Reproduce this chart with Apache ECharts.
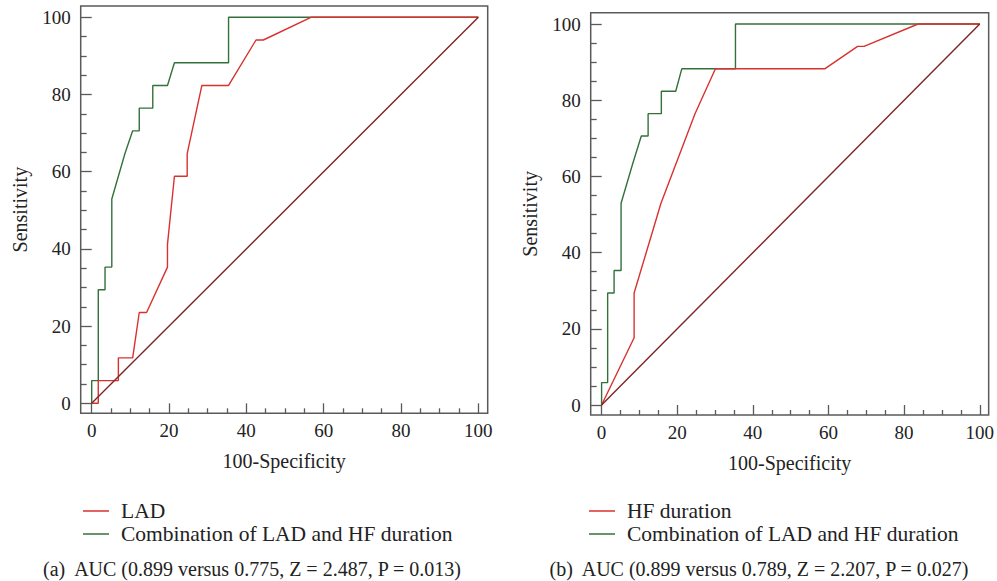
<!DOCTYPE html>
<html><head><meta charset="utf-8">
<script src="https://cdn.jsdelivr.net/npm/echarts@6/dist/echarts.min.js"></script>
<style>html,body{margin:0;padding:0;background:#fff}#c{width:997px;height:581px}</style>
</head><body><div id="c"></div>
<script>
// ---- data ----
const majorTicks = [0, 20, 40, 60, 80, 100];
const minorTicks = [5, 10, 15, 25, 30, 35, 45, 50, 55, 65, 70, 75, 85, 90, 95];
// Panel (a)
const ladX = [0, 1.7, 1.7, 6.9, 6.9, 10.6, 12.3, 14.2, 19.6, 19.6, 21.4, 24.7, 24.7, 28.5, 35.4, 42.5, 44.4, 56.7, 100];
const ladY = [0, 0, 5.88, 5.88, 11.76, 11.76, 23.53, 23.53, 35.29, 41.18, 58.82, 58.82, 64.71, 82.35, 82.35, 94.12, 94.12, 100, 100];
const combAX = [0, 0, 1.7, 1.7, 3.45, 3.45, 5.2, 5.2, 8.6, 10.6, 12.3, 12.3, 15.8, 15.8, 19.6, 21.4, 35.4, 35.4, 100];
const combAY = [0, 5.88, 5.88, 29.41, 29.41, 35.29, 35.29, 52.94, 64.7, 70.59, 70.59, 76.47, 76.47, 82.35, 82.35, 88.24, 88.24, 100, 100];
// Panel (b)
const hfX = [0, 8.6, 8.6, 15.7, 24.7, 30.1, 59, 67.7, 69.4, 83.7, 100];
const hfY = [0, 17.65, 29.41, 52.94, 76.47, 88.24, 88.24, 94.12, 94.12, 100, 100];
const combBX = [0, 0, 1.6, 1.6, 3.3, 3.3, 5.15, 5.15, 8.3, 10.5, 12.3, 12.3, 15.8, 15.8, 19.6, 21.2, 35.4, 35.4, 100];
const combBY = [0, 5.88, 5.88, 29.41, 29.41, 35.29, 35.29, 52.94, 63.6, 70.59, 70.59, 76.47, 76.47, 82.35, 82.35, 88.24, 88.24, 100, 100];
const refX = [0, 100];
const refY = [0, 100];
const nameLAD = 'LAD';
const nameHF = 'HF duration';
const nameComb = 'Combination of LAD and HF duration';
const captionA = '(a)  AUC (0.899 versus 0.775, Z = 2.487, P = 0.013)';
const captionB = '(b)  AUC (0.899 versus 0.789, Z = 2.207, P = 0.027)';
const xName = '100-Specificity';
const yName = 'Sensitivity';

// ---- styles ----
const FONT = '"Liberation Serif", "DejaVu Serif", serif';
const RED = '#d8322f';
const GREEN = '#33703a';
const DIAG = '#7e2424';
const FRAME = '#5a5a5a';
// axis extents (the frame sits a little outside the 0..100 data range)
const extA = { xmin: -2.845, xmax: 102.43, ymin: -2.59, ymax: 102.93 };
const extB = { xmin: -2.883, xmax: 102.36, ymin: -2.62, ymax: 102.97 };

const pairs = (xs, ys) => xs.map((x, i) => [x, ys[i]]);
const tickStyle = { color: FRAME, width: 1.3 };
const noLine = { show: false, onZero: false };

function xMajor(gi, ext) {
  return {
    type: 'value', gridIndex: gi, position: 'bottom', min: ext.xmin, max: ext.xmax,
    name: xName, nameLocation: 'middle', nameGap: 38,
    nameTextStyle: { fontFamily: FONT, fontSize: 20, color: '#222' },
    axisLine: noLine,
    axisTick: { show: true, inside: true, length: 10, customValues: majorTicks, lineStyle: tickStyle },
    splitLine: { show: false },
    axisLabel: { margin: 8, fontFamily: FONT, fontSize: 19, color: '#222', customValues: majorTicks, showMinLabel: true, showMaxLabel: true }
  };
}
function xMinor(gi, ext) {
  return {
    type: 'value', gridIndex: gi, position: 'bottom', offset: 0, min: ext.xmin, max: ext.xmax,
    axisLine: noLine,
    axisTick: { show: true, inside: true, length: 5, customValues: minorTicks, lineStyle: tickStyle },
    splitLine: { show: false }, axisLabel: { show: false }
  };
}
function yMajor(gi, ext) {
  return {
    type: 'value', gridIndex: gi, position: 'left', min: ext.ymin, max: ext.ymax,
    name: yName, nameLocation: 'middle', nameGap: 51, nameRotate: 90,
    nameTextStyle: { fontFamily: FONT, fontSize: 20, color: '#222' },
    axisLine: noLine,
    axisTick: { show: true, inside: true, length: 11, customValues: majorTicks, lineStyle: tickStyle },
    splitLine: { show: false },
    axisLabel: { margin: 10, fontFamily: FONT, fontSize: 19, color: '#222', customValues: majorTicks, showMinLabel: true, showMaxLabel: true }
  };
}
function yMinor(gi, ext) {
  return {
    type: 'value', gridIndex: gi, position: 'left', offset: 0, min: ext.ymin, max: ext.ymax,
    axisLine: noLine,
    axisTick: { show: true, inside: true, length: 6, customValues: minorTicks, lineStyle: tickStyle },
    splitLine: { show: false }, axisLabel: { show: false }
  };
}
function line(name, xs, ys, color, ai) {
  return {
    type: 'line', name: name, xAxisIndex: ai, yAxisIndex: ai,
    data: pairs(xs, ys), symbol: 'none', showSymbol: false, animation: false,
    lineStyle: { color: color, width: 1.4 }, itemStyle: { color: color }
  };
}
function legend(names, left) {
  return {
    data: names, orient: 'vertical', left: left, top: 495, icon: 'rect', itemWidth: 26, itemHeight: 1.5, itemGap: 1,
    textStyle: { fontFamily: FONT, fontSize: 21.5, lineHeight: 21, color: '#222', padding: [0, 0, 0, 7] }
  };
}

const option = {
  animation: false,
  backgroundColor: '#fff',
  grid: [
    { left: 80.7, top: 6, width: 407, height: 407.3, show: true, borderColor: FRAME, borderWidth: 1.5, backgroundColor: 'transparent' },
    { left: 590.7, top: 12.7, width: 401.6, height: 402.3, show: true, borderColor: FRAME, borderWidth: 1.5, backgroundColor: 'transparent' }
  ],
  xAxis: [xMajor(0, extA), xMinor(0, extA), xMajor(1, extB), xMinor(1, extB)],
  yAxis: [yMajor(0, extA), yMinor(0, extA), yMajor(1, extB), yMinor(1, extB)],
  legend: [legend([nameLAD, nameComb], 78), legend([nameHF, nameComb], 584)],
  series: [
    line(nameComb, combAX, combAY, GREEN, 0),
    line(nameLAD, ladX, ladY, RED, 0),
    line('ref-a', refX, refY, DIAG, 0),
    line(nameComb, combBX, combBY, GREEN, 2),
    line(nameHF, hfX, hfY, RED, 2),
    line('ref-b', refX, refY, DIAG, 2)
  ],
  graphic: [
    { type: 'text', x: 252, y: 569, style: { text: captionA, font: '20px ' + FONT, fill: '#222', textAlign: 'center', textVerticalAlign: 'middle' } },
    { type: 'text', x: 759, y: 569, style: { text: captionB, font: '20px ' + FONT, fill: '#222', textAlign: 'center', textVerticalAlign: 'middle' } }
  ]
};
const chart = echarts.init(document.getElementById('c'), null, { renderer: 'svg' });
chart.setOption(option);
</script></body></html>
